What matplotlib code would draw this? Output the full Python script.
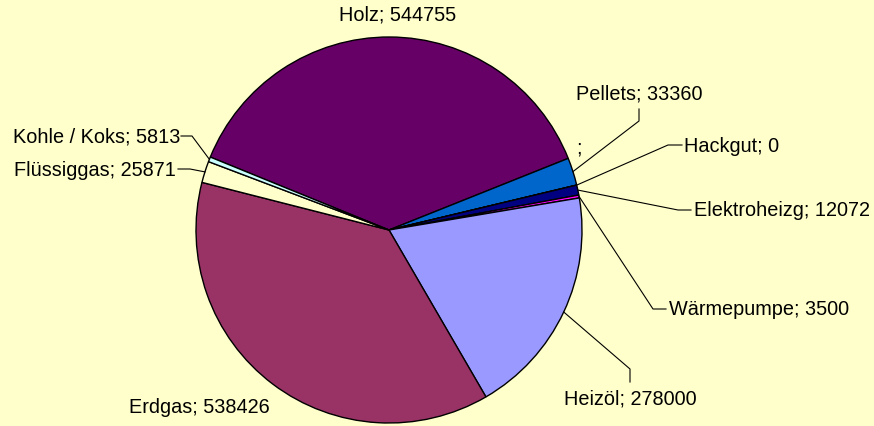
import numpy as np
import matplotlib
matplotlib.use("Agg")
import matplotlib.pyplot as plt

plt.rcParams['font.family'] = ['Liberation Sans', 'DejaVu Sans']

# data, clockwise from the Holz slice
categories = ['Holz', 'Pellets', '', 'Hackgut', 'Elektroheizg', 'Wärmepumpe',
              'Heizöl', 'Erdgas', 'Flüssiggas', 'Kohle / Koks']
values = [544755, 33360, None, 0, 12072, 3500, 278000, 538426, 25871, 5813]
colors = ['#660066', '#0066CC', '#FFFFFF', '#FFFFFF', '#000080', '#FF00FF',
          '#9999FF', '#993366', '#FFFFCC', '#CCFFFF']

H = 427
bg = '#FFFFCC'
fig = plt.figure(figsize=(8.74, 4.27), dpi=100, facecolor=bg)
ax = fig.add_axes([0, 0, 1, 1])
ax.set_facecolor(bg)

cx, cy, r = 389, H - 231, 193
vals = [v if v is not None else 0 for v in values]
wedges, _ = ax.pie(vals, colors=colors, startangle=157.8, counterclock=False,
                   center=(cx, cy), radius=r,
                   wedgeprops=dict(edgecolor='black', linewidth=1))

# label layout: (text x, text y from top, ha, elbow points from top or None)
layout = {
    'Holz': (398, 15, 'center', None),
    'Pellets': (576, 94, 'left', [(639, 122), (639, 110)]),
    '': (576, 148, 'left', None),
    'Hackgut': (684, 146, 'left', [(668, 146), (682, 146)]),
    'Elektroheizg': (694, 211, 'left', [(678, 211), (691, 211)]),
    'Wärmepumpe': (669, 310, 'left', [(653, 310), (666, 310)]),
    'Heizöl': (564, 399, 'left', [(630, 370), (630, 383)]),
    'Erdgas': (129, 408, 'left', None),
    'Flüssiggas': (14, 171, 'left', [(190, 170), (178, 170)]),
    'Kohle / Koks': (13, 137, 'left', [(192, 137), (181, 137)]),
}

for w, cat, val in zip(wedges, categories, values):
    tx, ty, ha, elbow = layout[cat]
    text = ';' if val is None else f'{cat}; {val}'
    ax.text(tx, H - ty, text, ha=ha, va='center', fontsize=14.3, color='black')
    if elbow:
        mid = np.deg2rad((w.theta1 + w.theta2) / 2)
        xs = [cx + r * np.cos(mid)] + [p[0] for p in elbow]
        ys = [cy + r * np.sin(mid)] + [H - p[1] for p in elbow]
        ax.plot(xs, ys, color='black', linewidth=0.8)

ax.set_xlim(0, 874)
ax.set_ylim(0, H)
ax.set_aspect('equal')
ax.axis('off')

fig.savefig('out.png', dpi=100, facecolor=bg)
